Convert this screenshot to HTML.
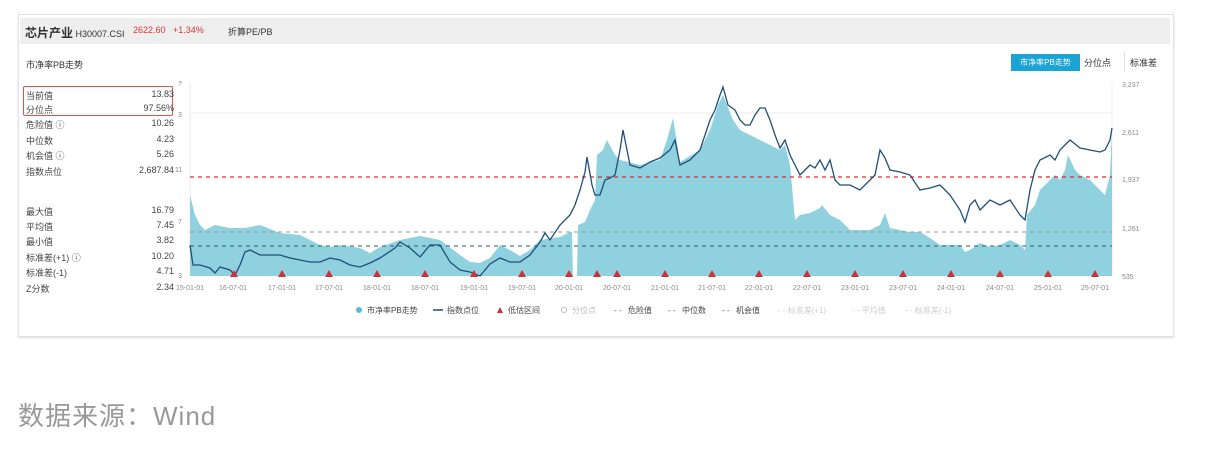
<!DOCTYPE html>
<html><head><meta charset="utf-8"><style>
body{margin:0;width:1228px;height:454px;background:#fff;font-family:"Liberation Sans","Noto Sans CJK SC",sans-serif;position:relative;overflow:hidden;color:#333}
.panel{position:absolute;left:18px;top:14px;width:1154px;height:321px;border:1px solid #e2e2e2;box-shadow:0 1px 2px #ddd}
.hdr{position:absolute;left:20px;top:18px;width:1150px;height:26px;background:#eeeeee}
.t{position:absolute;font-size:10px;white-space:nowrap}
.row{position:absolute;left:26px;width:148px;font-size:9px;color:#444}
.row span{position:absolute;right:0}
.src{position:absolute;left:18px;top:396px;font-size:26px;color:#999;letter-spacing:1px}
</style></head><body>
<div class="panel"></div>
<div class="hdr"></div>
<div class="t" style="left:25px;top:24px;font-size:12px;font-weight:bold">芯片产业<span style="font-weight:normal;font-size:9px"> H30007.CSI</span></div>
<div class="t" style="left:133px;top:25px;font-size:9px;color:#d33">2622.60 &nbsp; +1.34%</div>
<div class="t" style="left:228px;top:25px;font-size:9px">折算PE/PB</div>
<div class="t" style="left:26px;top:58px;font-size:9px">市净率PB走势</div>
<div style="position:absolute;left:23px;top:86px;width:148px;height:28px;border:1.5px solid #d9534f;border-radius:2px"></div>
<div class="row" style="top:89px">当前值<span>13.83</span></div>
<div class="row" style="top:103px">分位点<span>97.56%</span></div>
<div class="row" style="top:118px">危险值 ⓘ<span>10.26</span></div>
<div class="row" style="top:134px">中位数<span>4.23</span></div>
<div class="row" style="top:149px">机会值 ⓘ<span>5.26</span></div>
<div class="row" style="top:165px">指数点位<span>2,687.84</span></div>
<div class="row" style="top:205px">最大值<span>16.79</span></div>
<div class="row" style="top:220px">平均值<span>7.45</span></div>
<div class="row" style="top:235px">最小值<span>3.82</span></div>
<div class="row" style="top:251px">标准差(+1) ⓘ<span>10.20</span></div>
<div class="row" style="top:266px">标准差(-1)<span>4.71</span></div>
<div class="row" style="top:282px">Z分数<span>2.34</span></div>
<div class="t" style="left:1011px;top:54px;width:69px;height:17px;background:#1aa3d4;color:#fff;font-size:8px;line-height:17px;text-align:center">市净率PB走势</div>
<div class="t" style="left:1084px;top:56px;font-size:9px">分位点</div>
<div class="t" style="left:1124px;top:52px;width:1px;height:20px;background:#ddd"></div>
<div class="t" style="left:1130px;top:56px;font-size:9px">标准差</div>
<svg style="position:absolute;left:0;top:0" width="1228" height="454">
<g stroke="#eee" stroke-width="1"><line x1="190" y1="113" x2="1112" y2="113"/><line x1="190" y1="82" x2="190" y2="276"/><line x1="1112" y1="82" x2="1112" y2="276"/></g>
<polygon fill="#8fd1df" points="190,276 190,195 195,215 200,225 205,230 215,225 230,228 245,228 260,225 280,233 300,235 320,245 330,247 340,245 360,248 370,253 380,247 400,240 410,238 420,236 430,238 440,240 460,255 470,262 480,263 490,258 500,245 510,250 520,256 530,250 540,240 560,237 570,232 572,232 573,276 577,276 578,225 585,222 590,210 595,200 597,155 603,150 607,140 615,155 620,160 640,165 660,160 667,140 673,118 680,162 700,150 710,130 718,105 723,95 733,120 740,130 750,135 760,140 770,145 780,150 785,145 790,165 795,220 800,215 810,213 820,208 822,205 830,215 840,220 850,230 870,230 880,225 885,213 890,228 900,230 910,232 920,232 930,238 940,245 960,245 965,252 970,250 980,243 990,247 1000,245 1010,240 1020,245 1025,250 1027,215 1035,205 1040,190 1050,180 1055,175 1060,180 1065,170 1068,155 1075,170 1080,175 1090,180 1100,190 1105,195 1110,175 1112,130 1112,276"/>
<line x1="190" y1="177" x2="1112" y2="177" stroke="#c9302c" stroke-width="1.2" stroke-dasharray="4,4"/>
<line x1="190" y1="232" x2="1112" y2="232" stroke="#999" stroke-width="1" stroke-dasharray="4,4"/>
<line x1="190" y1="246" x2="1112" y2="246" stroke="#2e5c66" stroke-width="1" stroke-dasharray="4,4"/>
<polyline fill="none" stroke="#1f4f7a" stroke-width="1.3" points="190,245 193,265 200,265 210,268 215,273 220,267 230,270 235,275 240,265 245,252 250,250 260,255 280,255 290,258 300,260 310,262 320,262 330,258 340,260 350,265 360,267 370,263 380,258 395,248 400,242 410,248 420,257 430,245 440,245 450,262 460,270 470,272 480,276 490,264 500,258 510,262 520,262 530,255 540,242 545,233 550,240 560,225 570,215 575,205 580,190 585,172 587,157 592,185 595,195 600,195 605,180 610,178 615,175 620,150 623,130 627,150 630,165 640,168 650,162 660,158 670,150 675,140 680,165 690,160 700,150 710,120 715,110 720,95 723,87 728,105 735,110 740,120 745,125 750,125 755,115 760,108 765,108 770,120 775,135 780,148 785,140 790,155 800,175 810,165 815,168 820,160 825,170 830,160 835,180 840,185 850,185 860,190 870,180 875,175 880,150 885,158 890,170 900,172 910,175 920,190 930,188 940,185 950,195 960,210 965,222 970,205 975,200 980,210 990,200 1000,205 1010,200 1020,215 1025,220 1030,190 1035,170 1040,160 1050,155 1055,160 1060,150 1065,145 1070,140 1080,148 1090,150 1100,152 1105,150 1110,140 1112,128"/>
<g fill="#d0303a">
<path d="M230,277l4,-7l4,7z"/><path d="M278,277l4,-7l4,7z"/><path d="M325,277l4,-7l4,7z"/><path d="M373,277l4,-7l4,7z"/><path d="M421,277l4,-7l4,7z"/><path d="M470,277l4,-7l4,7z"/><path d="M518,277l4,-7l4,7z"/><path d="M565,277l4,-7l4,7z"/><path d="M593,277l4,-7l4,7z"/><path d="M613,277l4,-7l4,7z"/><path d="M661,277l4,-7l4,7z"/><path d="M708,277l4,-7l4,7z"/><path d="M755,277l4,-7l4,7z"/><path d="M803,277l4,-7l4,7z"/><path d="M851,277l4,-7l4,7z"/><path d="M899,277l4,-7l4,7z"/><path d="M947,277l4,-7l4,7z"/><path d="M996,277l4,-7l4,7z"/><path d="M1044,277l4,-7l4,7z"/><path d="M1091,277l4,-7l4,7z"/>
</g>
<g font-size="7" fill="#888" text-anchor="middle" font-family="Liberation Sans,sans-serif">
<text x="190" y="290">15-01-01</text><text x="233" y="290">16-07-01</text><text x="282" y="290">17-01-01</text><text x="329" y="290">17-07-01</text><text x="377" y="290">18-01-01</text><text x="425" y="290">18-07-01</text><text x="474" y="290">19-01-01</text><text x="522" y="290">19-07-01</text><text x="569" y="290">20-01-01</text><text x="617" y="290">20-07-01</text><text x="665" y="290">21-01-01</text><text x="712" y="290">21-07-01</text><text x="759" y="290">22-01-01</text><text x="807" y="290">22-07-01</text><text x="855" y="290">23-01-01</text><text x="903" y="290">23-07-01</text><text x="951" y="290">24-01-01</text><text x="1000" y="290">24-07-01</text><text x="1048" y="290">25-01-01</text><text x="1095" y="290">25-07-01</text>
</g>
<g font-size="7" fill="#888" font-family="Liberation Sans,sans-serif">
<text x="1122" y="87">3,237</text><text x="1122" y="135">2,611</text><text x="1122" y="182">1,937</text><text x="1122" y="231">1,261</text><text x="1122" y="279">535</text>
<text x="178" y="86">?</text><text x="178" y="117">3</text><text x="175" y="172">11</text><text x="178" y="224">7</text><text x="178" y="278">3</text>
</g>
<g font-size="8" font-family="Liberation Sans,Noto Sans CJK SC,sans-serif" fill="#444">
<circle cx="359" cy="310" r="3" fill="#5bbbd6"/><text x="367" y="313">市净率PB走势</text>
<line x1="433" y1="310" x2="443" y2="310" stroke="#1f4f7a" stroke-width="1.5"/><text x="447" y="313">指数点位</text>
<path d="M497,313l3,-6l3,6z" fill="#d0303a"/><text x="508" y="313">低估区间</text>
<circle cx="564" cy="310" r="2.5" fill="none" stroke="#bbb"/><text x="572" y="313" fill="#bbb">分位点</text>
<text x="614" y="313" fill="#c9302c">- -</text><text x="628" y="313">危险值</text>
<text x="668" y="313" fill="#555">- -</text><text x="682" y="313">中位数</text>
<text x="722" y="313" fill="#2e5c66">- -</text><text x="736" y="313">机会值</text>
<text x="778" y="313" fill="#ccc">- - 标准差(+1)</text>
<text x="852" y="313" fill="#ccc">- - 平均值</text>
<text x="905" y="313" fill="#ccc">- - 标准差(-1)</text>
</g>
</svg>
<div class="src">数据来源：Wind</div>
</body></html>
